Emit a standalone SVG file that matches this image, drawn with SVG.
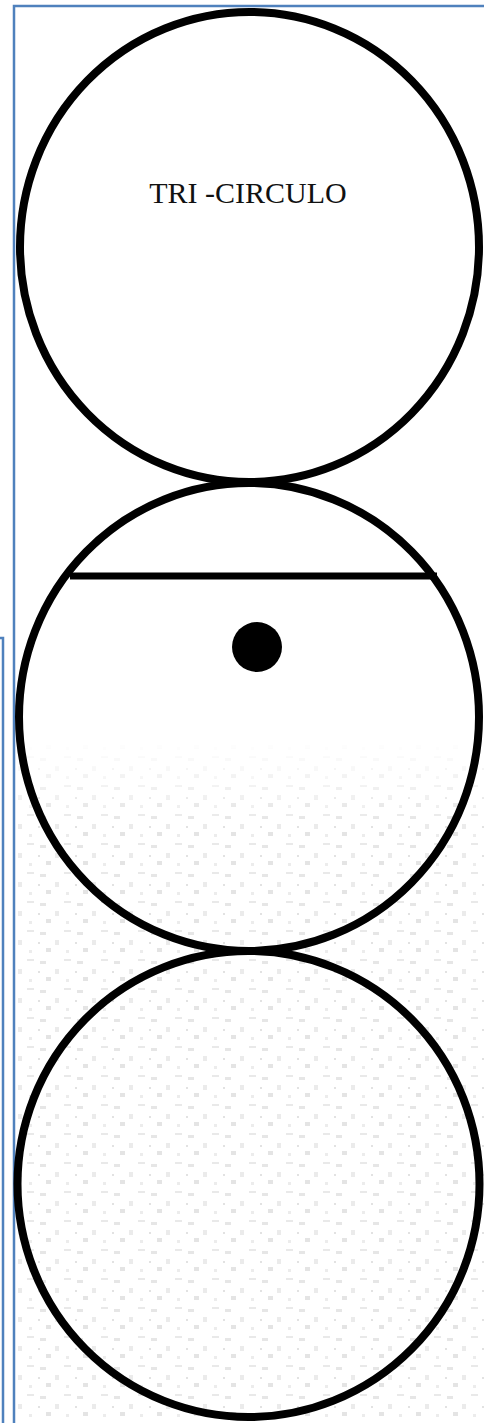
<svg xmlns="http://www.w3.org/2000/svg" width="484" height="1423" viewBox="0 0 484 1423">
<style>
.ring{fill:none;stroke:#000;stroke-width:8}
.frame{fill:none;stroke:#4f81bd;stroke-width:2.5}
.label{font-family:"Liberation Serif","Times New Roman",serif;font-size:30px;fill:#111}
</style>
<defs>
<pattern id="speck" width="37" height="29" patternUnits="userSpaceOnUse">
<rect x="3" y="4" width="6" height="3" fill="#e6e6e6"/>
<rect x="18" y="12" width="4" height="5" fill="#ebebeb"/>
<rect x="27" y="2" width="7" height="2" fill="#e9e9e9"/>
<rect x="9" y="20" width="5" height="4" fill="#e4e4e4"/>
<rect x="29" y="22" width="3" height="3" fill="#ececec"/>
<rect x="1" y="14" width="2" height="2" fill="#e2e2e2"/>
</pattern>
<linearGradient id="fade" x1="0" y1="0" x2="0" y2="1">
<stop offset="0" stop-color="#fff" stop-opacity="0"/>
<stop offset="0.12" stop-color="#fff" stop-opacity="1"/>
</linearGradient>
<mask id="fadeMask"><rect x="15" y="740" width="469" height="683" fill="url(#fade)"/></mask>
</defs>
<rect width="484" height="1423" fill="#fff"/>
<rect x="15" y="740" width="469" height="683" fill="url(#speck)" mask="url(#fadeMask)"/>
<g id="frame">
<path class="frame" d="M14,1423 V6 H484"/>
<path class="frame" d="M0,638 H3 V1423"/>
</g>
<g id="circle-top">
<ellipse class="ring" cx="249.5" cy="247" rx="229.5" ry="235"/>
<text class="label" x="248" y="203" text-anchor="middle">TRI -CIRCULO</text>
</g>
<g id="circle-middle">
<ellipse class="ring" cx="249" cy="717" rx="230" ry="234"/>
<line x1="70" y1="576" x2="437" y2="576" stroke="#000" stroke-width="7"/>
<circle cx="257" cy="647" r="25" fill="#000"/>
</g>
<g id="circle-bottom">
<ellipse class="ring" cx="248.5" cy="1184" rx="231" ry="233"/>
</g>
<g id="connectors"/>
</svg>
